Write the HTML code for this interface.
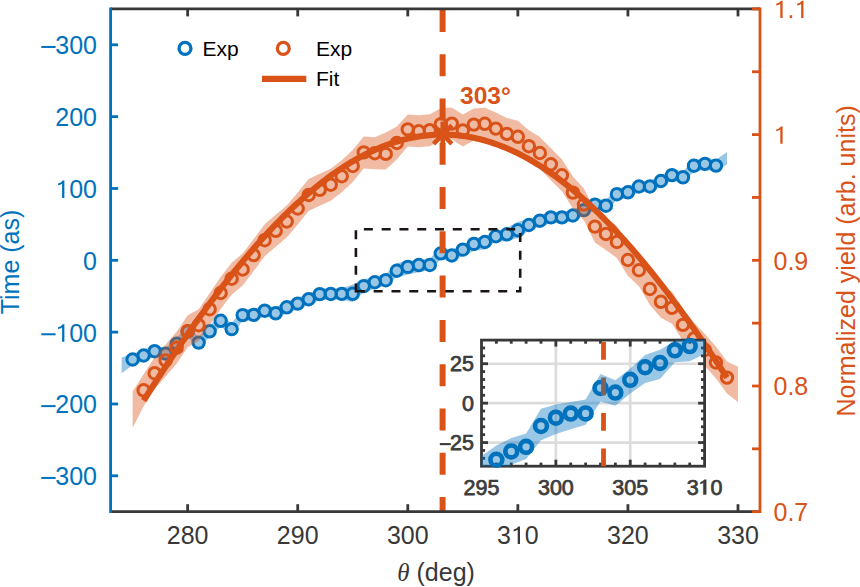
<!DOCTYPE html><html><head><meta charset="utf-8"><style>html,body{margin:0;padding:0;background:#fff;overflow:hidden;width:860px;height:587px;}svg{display:block;font-family:"Liberation Sans",sans-serif;}</style></head><body>
<svg width="860" height="587" viewBox="0 0 860 587">
<defs><clipPath id="cm"><rect x="110.6" y="8.9" width="649.4" height="502.8"/></clipPath>
<clipPath id="ci"><rect x="481.5" y="340.1" width="223.10000000000002" height="126.09999999999997"/></clipPath></defs>
<rect width="860" height="587" fill="#fff"/>
<g clip-path="url(#cm)">
<path d="M121.61 357.4 L132.61 353.75 L143.62 349.75 L154.63 345.45 L165.63 347.85 L176.64 338.05 L187.65 325.75 L198.65 336.85 L209.66 325.55 L220.67 315.05 L231.67 323.35 L242.68 309.35 L253.69 309.15 L264.69 304.95 L275.7 307.55 L286.71 301.55 L297.72 297.85 L308.72 293.45 L319.73 288.35 L330.74 288.25 L341.74 288.15 L352.75 284.43 L363.76 279.62 L374.76 276.17 L385.77 274.16 L396.78 262.89 L407.78 260.95 L418.79 259.8 L429.8 258.65 L440.8 247.01 L451.81 249.81 L462.82 244.5 L473.82 238.32 L484.83 235.95 L495.84 231.93 L506.84 227.83 L517.85 221.66 L528.86 219.25 L539.86 214.95 L550.87 211.65 L561.88 211.65 L572.88 209.75 L583.89 204.35 L594.9 198.85 L605.91 199.95 L616.91 188.45 L627.92 186.55 L638.93 180.75 L649.93 180.75 L660.94 175.25 L671.95 169.35 L682.95 171.55 L693.96 159.95 L704.97 158.15 L715.97 159.85 L726.98 151.98 L726.98 164.62 L715.97 171.35 L704.97 169.65 L693.96 171.45 L682.95 183.05 L671.95 180.85 L660.94 186.75 L649.93 192.25 L638.93 192.25 L627.92 198.05 L616.91 199.95 L605.91 211.45 L594.9 210.35 L583.89 215.85 L572.88 221.25 L561.88 223.15 L550.87 223.15 L539.86 226.45 L528.86 230.75 L517.85 237.89 L506.84 241.19 L495.84 241.62 L484.83 249.31 L473.82 251.11 L462.82 255.92 L451.81 261.52 L440.8 259.58 L429.8 270.14 L418.79 272.15 L407.78 274.38 L396.78 277.18 L385.77 285.8 L374.76 288.38 L363.76 292.55 L352.75 302.1 L341.74 299.65 L330.74 299.75 L319.73 299.85 L308.72 304.95 L297.72 309.35 L286.71 313.05 L275.7 319.05 L264.69 316.45 L253.69 320.65 L242.68 320.85 L231.67 334.85 L220.67 326.55 L209.66 337.05 L198.65 348.35 L187.65 337.25 L176.64 349.55 L165.63 359.35 L154.63 356.95 L143.62 361.25 L132.61 365.25 L121.61 373.2 Z" fill="#0072BD" fill-opacity="0.4"/>
<circle cx="132.61" cy="359.5" r="5.7" fill="none" stroke="#0072BD" stroke-width="3.0"/>
<circle cx="143.62" cy="355.5" r="5.7" fill="none" stroke="#0072BD" stroke-width="3.0"/>
<circle cx="154.63" cy="351.2" r="5.7" fill="none" stroke="#0072BD" stroke-width="3.0"/>
<circle cx="165.63" cy="353.6" r="5.7" fill="none" stroke="#0072BD" stroke-width="3.0"/>
<circle cx="176.64" cy="343.8" r="5.7" fill="none" stroke="#0072BD" stroke-width="3.0"/>
<circle cx="187.65" cy="331.5" r="5.7" fill="none" stroke="#0072BD" stroke-width="3.0"/>
<circle cx="198.65" cy="342.6" r="5.7" fill="none" stroke="#0072BD" stroke-width="3.0"/>
<circle cx="209.66" cy="331.3" r="5.7" fill="none" stroke="#0072BD" stroke-width="3.0"/>
<circle cx="220.67" cy="320.8" r="5.7" fill="none" stroke="#0072BD" stroke-width="3.0"/>
<circle cx="231.67" cy="329.1" r="5.7" fill="none" stroke="#0072BD" stroke-width="3.0"/>
<circle cx="242.68" cy="315.1" r="5.7" fill="none" stroke="#0072BD" stroke-width="3.0"/>
<circle cx="253.69" cy="314.9" r="5.7" fill="none" stroke="#0072BD" stroke-width="3.0"/>
<circle cx="264.69" cy="310.7" r="5.7" fill="none" stroke="#0072BD" stroke-width="3.0"/>
<circle cx="275.7" cy="313.3" r="5.7" fill="none" stroke="#0072BD" stroke-width="3.0"/>
<circle cx="286.71" cy="307.3" r="5.7" fill="none" stroke="#0072BD" stroke-width="3.0"/>
<circle cx="297.72" cy="303.6" r="5.7" fill="none" stroke="#0072BD" stroke-width="3.0"/>
<circle cx="308.72" cy="299.2" r="5.7" fill="none" stroke="#0072BD" stroke-width="3.0"/>
<circle cx="319.73" cy="294.1" r="5.7" fill="none" stroke="#0072BD" stroke-width="3.0"/>
<circle cx="330.74" cy="294" r="5.7" fill="none" stroke="#0072BD" stroke-width="3.0"/>
<circle cx="341.74" cy="293.9" r="5.7" fill="none" stroke="#0072BD" stroke-width="3.0"/>
<circle cx="352.75" cy="293.8" r="5.7" fill="none" stroke="#0072BD" stroke-width="3.0"/>
<circle cx="363.76" cy="286.09" r="5.7" fill="none" stroke="#0072BD" stroke-width="3.0"/>
<circle cx="374.76" cy="282.28" r="5.7" fill="none" stroke="#0072BD" stroke-width="3.0"/>
<circle cx="385.77" cy="280.2" r="5.7" fill="none" stroke="#0072BD" stroke-width="3.0"/>
<circle cx="396.78" cy="270.72" r="5.7" fill="none" stroke="#0072BD" stroke-width="3.0"/>
<circle cx="407.78" cy="266.91" r="5.7" fill="none" stroke="#0072BD" stroke-width="3.0"/>
<circle cx="418.79" cy="265.04" r="5.7" fill="none" stroke="#0072BD" stroke-width="3.0"/>
<circle cx="429.8" cy="264.97" r="5.7" fill="none" stroke="#0072BD" stroke-width="3.0"/>
<circle cx="440.8" cy="253.4" r="5.7" fill="none" stroke="#0072BD" stroke-width="3.0"/>
<circle cx="451.81" cy="255.49" r="5.7" fill="none" stroke="#0072BD" stroke-width="3.0"/>
<circle cx="462.82" cy="249.67" r="5.7" fill="none" stroke="#0072BD" stroke-width="3.0"/>
<circle cx="473.82" cy="243.92" r="5.7" fill="none" stroke="#0072BD" stroke-width="3.0"/>
<circle cx="484.83" cy="241.98" r="5.7" fill="none" stroke="#0072BD" stroke-width="3.0"/>
<circle cx="495.84" cy="236.24" r="5.7" fill="none" stroke="#0072BD" stroke-width="3.0"/>
<circle cx="506.84" cy="234.3" r="5.7" fill="none" stroke="#0072BD" stroke-width="3.0"/>
<circle cx="517.85" cy="230.3" r="5.7" fill="none" stroke="#0072BD" stroke-width="3.0"/>
<circle cx="528.86" cy="225" r="5.7" fill="none" stroke="#0072BD" stroke-width="3.0"/>
<circle cx="539.86" cy="220.7" r="5.7" fill="none" stroke="#0072BD" stroke-width="3.0"/>
<circle cx="550.87" cy="217.4" r="5.7" fill="none" stroke="#0072BD" stroke-width="3.0"/>
<circle cx="561.88" cy="217.4" r="5.7" fill="none" stroke="#0072BD" stroke-width="3.0"/>
<circle cx="572.88" cy="215.5" r="5.7" fill="none" stroke="#0072BD" stroke-width="3.0"/>
<circle cx="583.89" cy="210.1" r="5.7" fill="none" stroke="#0072BD" stroke-width="3.0"/>
<circle cx="594.9" cy="204.6" r="5.7" fill="none" stroke="#0072BD" stroke-width="3.0"/>
<circle cx="605.91" cy="205.7" r="5.7" fill="none" stroke="#0072BD" stroke-width="3.0"/>
<circle cx="616.91" cy="194.2" r="5.7" fill="none" stroke="#0072BD" stroke-width="3.0"/>
<circle cx="627.92" cy="192.3" r="5.7" fill="none" stroke="#0072BD" stroke-width="3.0"/>
<circle cx="638.93" cy="186.5" r="5.7" fill="none" stroke="#0072BD" stroke-width="3.0"/>
<circle cx="649.93" cy="186.5" r="5.7" fill="none" stroke="#0072BD" stroke-width="3.0"/>
<circle cx="660.94" cy="181" r="5.7" fill="none" stroke="#0072BD" stroke-width="3.0"/>
<circle cx="671.95" cy="175.1" r="5.7" fill="none" stroke="#0072BD" stroke-width="3.0"/>
<circle cx="682.95" cy="177.3" r="5.7" fill="none" stroke="#0072BD" stroke-width="3.0"/>
<circle cx="693.96" cy="165.7" r="5.7" fill="none" stroke="#0072BD" stroke-width="3.0"/>
<circle cx="704.97" cy="163.9" r="5.7" fill="none" stroke="#0072BD" stroke-width="3.0"/>
<circle cx="715.97" cy="165.6" r="5.7" fill="none" stroke="#0072BD" stroke-width="3.0"/>
<path d="M132.61 391.4 L143.62 374.3 L154.63 357.2 L165.63 344.4 L176.64 331.7 L187.65 315.2 L198.65 309.2 L209.66 293.2 L220.67 277 L231.67 262.7 L242.68 253.5 L253.69 239.1 L264.69 224.2 L275.7 214.8 L286.71 205.5 L297.72 192.5 L308.72 179 L319.73 173.8 L330.74 168.7 L341.74 160.2 L352.75 150 L363.76 136.4 L374.76 137.2 L385.77 132.5 L396.78 126.5 L407.78 114.5 L418.79 115.3 L429.8 114.2 L440.8 108.2 L451.81 107.6 L462.82 114.4 L473.82 108.6 L484.83 107.8 L495.84 112.6 L506.84 117.9 L517.85 120.8 L528.86 130.2 L539.86 137 L550.87 148.3 L561.88 159.3 L572.88 176.6 L583.89 188.5 L594.9 210.6 L605.91 218 L616.91 226 L627.92 244 L638.93 254.2 L649.93 273 L660.94 285.8 L671.95 291.8 L682.95 308.9 L693.96 322.5 L704.97 334 L715.97 346.5 L726.98 361.6 L737.99 366.8 L737.99 402 L726.98 393.6 L715.97 378.5 L704.97 366 L693.96 354.5 L682.95 340.9 L671.95 323.8 L660.94 317.8 L649.93 305 L638.93 286.2 L627.92 276 L616.91 258 L605.91 250 L594.9 242.6 L583.89 220.5 L572.88 208.6 L561.88 191.3 L550.87 180.3 L539.86 169 L528.86 162.2 L517.85 152.8 L506.84 149.9 L495.84 144.6 L484.83 139.8 L473.82 140.6 L462.82 146.4 L451.81 139.6 L440.8 140.2 L429.8 146.2 L418.79 147.3 L407.78 146.5 L396.78 159.5 L385.77 169.5 L374.76 169.2 L363.76 168.4 L352.75 182 L341.74 192.2 L330.74 200.7 L319.73 205.8 L308.72 211 L297.72 224.5 L286.71 237.5 L275.7 246.8 L264.69 256.2 L253.69 271.1 L242.68 285.5 L231.67 294.7 L220.67 309 L209.66 325.2 L198.65 341.2 L187.65 347.2 L176.64 363.7 L165.63 376.4 L154.63 389.2 L143.62 406.3 L132.61 428 Z" fill="#D95319" fill-opacity="0.4"/>
<circle cx="143.62" cy="390.3" r="5.7" fill="none" stroke="#D95319" stroke-width="3.0"/>
<circle cx="154.63" cy="373.2" r="5.7" fill="none" stroke="#D95319" stroke-width="3.0"/>
<circle cx="165.63" cy="360.4" r="5.7" fill="none" stroke="#D95319" stroke-width="3.0"/>
<circle cx="176.64" cy="347.7" r="5.7" fill="none" stroke="#D95319" stroke-width="3.0"/>
<circle cx="187.65" cy="331.2" r="5.7" fill="none" stroke="#D95319" stroke-width="3.0"/>
<circle cx="198.65" cy="325.2" r="5.7" fill="none" stroke="#D95319" stroke-width="3.0"/>
<circle cx="209.66" cy="309.2" r="5.7" fill="none" stroke="#D95319" stroke-width="3.0"/>
<circle cx="220.67" cy="293" r="5.7" fill="none" stroke="#D95319" stroke-width="3.0"/>
<circle cx="231.67" cy="278.7" r="5.7" fill="none" stroke="#D95319" stroke-width="3.0"/>
<circle cx="242.68" cy="269.5" r="5.7" fill="none" stroke="#D95319" stroke-width="3.0"/>
<circle cx="253.69" cy="255.1" r="5.7" fill="none" stroke="#D95319" stroke-width="3.0"/>
<circle cx="264.69" cy="240.2" r="5.7" fill="none" stroke="#D95319" stroke-width="3.0"/>
<circle cx="275.7" cy="230.8" r="5.7" fill="none" stroke="#D95319" stroke-width="3.0"/>
<circle cx="286.71" cy="221.5" r="5.7" fill="none" stroke="#D95319" stroke-width="3.0"/>
<circle cx="297.72" cy="208.5" r="5.7" fill="none" stroke="#D95319" stroke-width="3.0"/>
<circle cx="308.72" cy="195" r="5.7" fill="none" stroke="#D95319" stroke-width="3.0"/>
<circle cx="319.73" cy="189.8" r="5.7" fill="none" stroke="#D95319" stroke-width="3.0"/>
<circle cx="330.74" cy="184.7" r="5.7" fill="none" stroke="#D95319" stroke-width="3.0"/>
<circle cx="341.74" cy="176.2" r="5.7" fill="none" stroke="#D95319" stroke-width="3.0"/>
<circle cx="352.75" cy="166" r="5.7" fill="none" stroke="#D95319" stroke-width="3.0"/>
<circle cx="363.76" cy="152.4" r="5.7" fill="none" stroke="#D95319" stroke-width="3.0"/>
<circle cx="374.76" cy="153.2" r="5.7" fill="none" stroke="#D95319" stroke-width="3.0"/>
<circle cx="385.77" cy="153.9" r="5.7" fill="none" stroke="#D95319" stroke-width="3.0"/>
<circle cx="396.78" cy="143" r="5.7" fill="none" stroke="#D95319" stroke-width="3.0"/>
<circle cx="407.78" cy="129.4" r="5.7" fill="none" stroke="#D95319" stroke-width="3.0"/>
<circle cx="418.79" cy="131.3" r="5.7" fill="none" stroke="#D95319" stroke-width="3.0"/>
<circle cx="429.8" cy="130.2" r="5.7" fill="none" stroke="#D95319" stroke-width="3.0"/>
<circle cx="440.8" cy="124.2" r="5.7" fill="none" stroke="#D95319" stroke-width="3.0"/>
<circle cx="451.81" cy="123.6" r="5.7" fill="none" stroke="#D95319" stroke-width="3.0"/>
<circle cx="462.82" cy="130.4" r="5.7" fill="none" stroke="#D95319" stroke-width="3.0"/>
<circle cx="473.82" cy="124.6" r="5.7" fill="none" stroke="#D95319" stroke-width="3.0"/>
<circle cx="484.83" cy="123.8" r="5.7" fill="none" stroke="#D95319" stroke-width="3.0"/>
<circle cx="495.84" cy="128.6" r="5.7" fill="none" stroke="#D95319" stroke-width="3.0"/>
<circle cx="506.84" cy="133.9" r="5.7" fill="none" stroke="#D95319" stroke-width="3.0"/>
<circle cx="517.85" cy="136.8" r="5.7" fill="none" stroke="#D95319" stroke-width="3.0"/>
<circle cx="528.86" cy="146.2" r="5.7" fill="none" stroke="#D95319" stroke-width="3.0"/>
<circle cx="539.86" cy="153" r="5.7" fill="none" stroke="#D95319" stroke-width="3.0"/>
<circle cx="550.87" cy="164.3" r="5.7" fill="none" stroke="#D95319" stroke-width="3.0"/>
<circle cx="561.88" cy="175.3" r="5.7" fill="none" stroke="#D95319" stroke-width="3.0"/>
<circle cx="572.88" cy="192.6" r="5.7" fill="none" stroke="#D95319" stroke-width="3.0"/>
<circle cx="583.89" cy="204.5" r="5.7" fill="none" stroke="#D95319" stroke-width="3.0"/>
<circle cx="594.9" cy="226.6" r="5.7" fill="none" stroke="#D95319" stroke-width="3.0"/>
<circle cx="605.91" cy="234" r="5.7" fill="none" stroke="#D95319" stroke-width="3.0"/>
<circle cx="616.91" cy="242" r="5.7" fill="none" stroke="#D95319" stroke-width="3.0"/>
<circle cx="627.92" cy="260" r="5.7" fill="none" stroke="#D95319" stroke-width="3.0"/>
<circle cx="638.93" cy="270.2" r="5.7" fill="none" stroke="#D95319" stroke-width="3.0"/>
<circle cx="649.93" cy="289" r="5.7" fill="none" stroke="#D95319" stroke-width="3.0"/>
<circle cx="660.94" cy="301.8" r="5.7" fill="none" stroke="#D95319" stroke-width="3.0"/>
<circle cx="671.95" cy="307.8" r="5.7" fill="none" stroke="#D95319" stroke-width="3.0"/>
<circle cx="682.95" cy="324.9" r="5.7" fill="none" stroke="#D95319" stroke-width="3.0"/>
<circle cx="693.96" cy="338.5" r="5.7" fill="none" stroke="#D95319" stroke-width="3.0"/>
<circle cx="704.97" cy="350" r="5.7" fill="none" stroke="#D95319" stroke-width="3.0"/>
<circle cx="715.97" cy="362.5" r="5.7" fill="none" stroke="#D95319" stroke-width="3.0"/>
<circle cx="726.98" cy="377.6" r="5.7" fill="none" stroke="#D95319" stroke-width="3.0"/>
<path d="M143.62 400.58 L146.37 396.25 L149.12 391.95 L151.88 387.67 L154.63 383.41 L157.38 379.17 L160.13 374.96 L162.88 370.77 L165.63 366.6 L168.39 362.46 L171.14 358.34 L173.89 354.25 L176.64 350.18 L179.39 346.14 L182.14 342.13 L184.9 338.14 L187.65 334.18 L190.4 330.25 L193.15 326.35 L195.9 322.47 L198.65 318.63 L201.41 314.81 L204.16 311.03 L206.91 307.27 L209.66 303.55 L212.41 299.85 L215.16 296.19 L217.92 292.56 L220.67 288.96 L223.42 285.4 L226.17 281.87 L228.92 278.37 L231.67 274.9 L234.43 271.47 L237.18 268.08 L239.93 264.72 L242.68 261.39 L245.43 258.11 L248.18 254.85 L250.94 251.64 L253.69 248.46 L256.44 245.32 L259.19 242.21 L261.94 239.14 L264.69 236.12 L267.45 233.13 L270.2 230.18 L272.95 227.27 L275.7 224.39 L278.45 221.56 L281.21 218.77 L283.96 216.02 L286.71 213.31 L289.46 210.65 L292.21 208.02 L294.96 205.43 L297.72 202.89 L300.47 200.39 L303.22 197.94 L305.97 195.52 L308.72 193.15 L311.47 190.82 L314.23 188.54 L316.98 186.3 L319.73 184.11 L322.48 181.96 L325.23 179.85 L327.98 177.8 L330.74 175.78 L333.49 173.81 L336.24 171.89 L338.99 170.01 L341.74 168.18 L344.49 166.4 L347.25 164.67 L350 162.98 L352.75 161.33 L355.5 159.74 L358.25 158.19 L361 156.69 L363.76 155.24 L366.51 153.84 L369.26 152.48 L372.01 151.18 L374.76 149.92 L377.51 148.71 L380.27 147.55 L383.02 146.44 L385.77 145.37 L388.52 144.36 L391.27 143.4 L394.02 142.48 L396.78 141.62 L399.53 140.81 L402.28 140.04 L405.03 139.33 L407.78 138.66 L410.53 138.05 L413.29 137.48 L416.04 136.97 L418.79 136.5 L421.54 136.09 L424.29 135.73 L427.04 135.42 L429.8 135.15 L432.55 134.94 L435.3 134.78 L438.05 134.67 L440.8 134.61 L443.56 134.6 L446.31 134.64 L449.06 134.74 L451.81 134.88 L454.56 135.07 L457.31 135.32 L460.07 135.61 L462.82 135.96 L465.57 136.35 L468.32 136.8 L471.07 137.29 L473.82 137.84 L476.58 138.43 L479.33 139.08 L482.08 139.78 L484.83 140.52 L487.58 141.32 L490.33 142.17 L493.09 143.06 L495.84 144.01 L498.59 145 L501.34 146.05 L504.09 147.14 L506.84 148.28 L509.6 149.48 L512.35 150.72 L515.1 152.01 L517.85 153.34 L520.6 154.73 L523.35 156.16 L526.11 157.65 L528.86 159.18 L531.61 160.75 L534.36 162.38 L537.11 164.05 L539.86 165.77 L542.62 167.54 L545.37 169.35 L548.12 171.21 L550.87 173.12 L553.62 175.07 L556.37 177.07 L559.13 179.11 L561.88 181.2 L564.63 183.33 L567.38 185.51 L570.13 187.73 L572.88 190 L575.64 192.31 L578.39 194.66 L581.14 197.06 L583.89 199.5 L586.64 201.99 L589.39 204.51 L592.15 207.08 L594.9 209.69 L597.65 212.35 L600.4 215.04 L603.15 217.78 L605.91 220.55 L608.66 223.37 L611.41 226.23 L614.16 229.12 L616.91 232.06 L619.66 235.04 L622.42 238.05 L625.17 241.1 L627.92 244.19 L630.67 247.32 L633.42 250.49 L636.17 253.69 L638.93 256.93 L641.68 260.21 L644.43 263.52 L647.18 266.87 L649.93 270.25 L652.68 273.67 L655.44 277.12 L658.19 280.6 L660.94 284.12 L663.69 287.68 L666.44 291.26 L669.19 294.88 L671.95 298.53 L674.7 302.21 L677.45 305.93 L680.2 309.67 L682.95 313.45 L685.7 317.25 L688.46 321.09 L691.21 324.95 L693.96 328.84 L696.71 332.76 L699.46 336.71 L702.21 340.69 L704.97 344.69 L707.72 348.72 L710.47 352.78 L713.22 356.86 L715.97 360.97 L718.72 365.11 L721.48 369.26 L724.23 373.45 L726.98 377.65" fill="none" stroke="#D95319" stroke-width="6.1"/>
</g>
<path d="M355.9 291.25 H520.2 V229.3 H355.9 Z" fill="none" stroke="#1a1414" stroke-width="2.6" stroke-dasharray="9 8.79"/>
<line x1="442.6" y1="10" x2="442.6" y2="511.7" stroke="#D95319" stroke-width="6" stroke-dasharray="22 22.27"/>
<path d="M429.7 134.6 L455.7 134.6 M433.51 125.41 L451.89 143.79 M442.7 121.6 L442.7 147.6 M451.89 125.41 L433.51 143.79" stroke="#D95319" stroke-width="4.5" fill="none"/>
<text x="460" y="104" font-size="24.5" font-weight="bold" fill="#D95319">303°</text>
<circle cx="185" cy="48.4" r="5.95" fill="none" stroke="#0072BD" stroke-width="3.3"/>
<text x="202.5" y="55.5" font-size="21" fill="#000">Exp</text>
<circle cx="283.3" cy="48.4" r="5.95" fill="none" stroke="#D95319" stroke-width="3.3"/>
<text x="316" y="55.5" font-size="21" fill="#000">Exp</text>
<line x1="262" y1="78.8" x2="306.3" y2="78.8" stroke="#D95319" stroke-width="6.3"/>
<text x="316" y="86.3" font-size="21" fill="#000">Fit</text>
<g fill="none" stroke-width="2.8">
<line x1="110.6" y1="8.9" x2="760.0" y2="8.9" stroke="#383838"/>
<line x1="110.6" y1="511.7" x2="760.0" y2="511.7" stroke="#383838"/>
<line x1="187.65" y1="511.7" x2="187.65" y2="504.2" stroke="#383838"/>
<line x1="187.65" y1="8.9" x2="187.65" y2="16.4" stroke="#383838"/>
<line x1="297.72" y1="511.7" x2="297.72" y2="504.2" stroke="#383838"/>
<line x1="297.72" y1="8.9" x2="297.72" y2="16.4" stroke="#383838"/>
<line x1="407.78" y1="511.7" x2="407.78" y2="504.2" stroke="#383838"/>
<line x1="407.78" y1="8.9" x2="407.78" y2="16.4" stroke="#383838"/>
<line x1="517.85" y1="511.7" x2="517.85" y2="504.2" stroke="#383838"/>
<line x1="517.85" y1="8.9" x2="517.85" y2="16.4" stroke="#383838"/>
<line x1="627.92" y1="511.7" x2="627.92" y2="504.2" stroke="#383838"/>
<line x1="627.92" y1="8.9" x2="627.92" y2="16.4" stroke="#383838"/>
<line x1="737.99" y1="511.7" x2="737.99" y2="504.2" stroke="#383838"/>
<line x1="737.99" y1="8.9" x2="737.99" y2="16.4" stroke="#383838"/>
<line x1="110.6" y1="7.5" x2="110.6" y2="513.1" stroke="#0072BD"/>
<line x1="110.6" y1="475.79" x2="118.1" y2="475.79" stroke="#0072BD"/>
<line x1="110.6" y1="403.96" x2="118.1" y2="403.96" stroke="#0072BD"/>
<line x1="110.6" y1="332.13" x2="118.1" y2="332.13" stroke="#0072BD"/>
<line x1="110.6" y1="260.3" x2="118.1" y2="260.3" stroke="#0072BD"/>
<line x1="110.6" y1="188.47" x2="118.1" y2="188.47" stroke="#0072BD"/>
<line x1="110.6" y1="116.64" x2="118.1" y2="116.64" stroke="#0072BD"/>
<line x1="110.6" y1="44.81" x2="118.1" y2="44.81" stroke="#0072BD"/>
<line x1="760.0" y1="7.5" x2="760.0" y2="513.1" stroke="#D95319"/>
<line x1="760.0" y1="511.7" x2="752.0" y2="511.7" stroke="#D95319"/>
<line x1="760.0" y1="448.85" x2="752.0" y2="448.85" stroke="#D95319"/>
<line x1="760.0" y1="386" x2="752.0" y2="386" stroke="#D95319"/>
<line x1="760.0" y1="323.15" x2="752.0" y2="323.15" stroke="#D95319"/>
<line x1="760.0" y1="260.3" x2="752.0" y2="260.3" stroke="#D95319"/>
<line x1="760.0" y1="197.45" x2="752.0" y2="197.45" stroke="#D95319"/>
<line x1="760.0" y1="134.6" x2="752.0" y2="134.6" stroke="#D95319"/>
<line x1="760.0" y1="71.75" x2="752.0" y2="71.75" stroke="#D95319"/>
<line x1="760.0" y1="8.9" x2="752.0" y2="8.9" stroke="#D95319"/>
</g>
<text x="55.29" y="54.31" font-size="25" fill="#0072BD">300</text>
<rect x="41.3" y="45.96" width="14.3" height="2" fill="#0072BD"/>
<text x="55.29" y="126.14" font-size="25" fill="#0072BD">200</text>
<text x="55.29" y="197.97" font-size="25" fill="#0072BD"> 00</text>
<path d="M745 0L745 1425L610 1425Q480 1235 225 1178L225 1032Q420 1072 557 1165L557 0Z" fill="#0072BD" transform="translate(55.29 197.97) scale(0.012207 -0.012207)"/>
<text x="83.1" y="269.8" font-size="25" fill="#0072BD">0</text>
<text x="55.29" y="341.63" font-size="25" fill="#0072BD"> 00</text>
<path d="M745 0L745 1425L610 1425Q480 1235 225 1178L225 1032Q420 1072 557 1165L557 0Z" fill="#0072BD" transform="translate(55.29 341.63) scale(0.012207 -0.012207)"/>
<rect x="41.3" y="333.28" width="14.3" height="2" fill="#0072BD"/>
<text x="55.29" y="413.46" font-size="25" fill="#0072BD">200</text>
<rect x="41.3" y="405.11" width="14.3" height="2" fill="#0072BD"/>
<text x="55.29" y="485.29" font-size="25" fill="#0072BD">300</text>
<rect x="41.3" y="476.94" width="14.3" height="2" fill="#0072BD"/>
<text x="773.5" y="18.1" font-size="25" fill="#D95319"> . </text>
<path d="M745 0L745 1425L610 1425Q480 1235 225 1178L225 1032Q420 1072 557 1165L557 0Z" fill="#D95319" transform="translate(773.5 18.1) scale(0.012207 -0.012207)"/>
<path d="M745 0L745 1425L610 1425Q480 1235 225 1178L225 1032Q420 1072 557 1165L557 0Z" fill="#D95319" transform="translate(794.35 18.1) scale(0.012207 -0.012207)"/>
<text x="773.5" y="143.8" font-size="25" fill="#D95319"> </text>
<path d="M745 0L745 1425L610 1425Q480 1235 225 1178L225 1032Q420 1072 557 1165L557 0Z" fill="#D95319" transform="translate(773.5 143.8) scale(0.012207 -0.012207)"/>
<text x="773.5" y="269.5" font-size="25" fill="#D95319">0.9</text>
<text x="773.5" y="395.2" font-size="25" fill="#D95319">0.8</text>
<text x="773.5" y="520.9" font-size="25" fill="#D95319">0.7</text>
<text x="166.79" y="544" font-size="25" fill="#383838">280</text>
<text x="276.86" y="544" font-size="25" fill="#383838">290</text>
<text x="386.93" y="544" font-size="25" fill="#383838">300</text>
<text x="497" y="544" font-size="25" fill="#383838">3 0</text>
<path d="M745 0L745 1425L610 1425Q480 1235 225 1178L225 1032Q420 1072 557 1165L557 0Z" fill="#383838" transform="translate(510.9 544) scale(0.012207 -0.012207)"/>
<text x="607.06" y="544" font-size="25" fill="#383838">320</text>
<text x="717.13" y="544" font-size="25" fill="#383838">330</text>
<text transform="translate(18.6 262) rotate(-90)" font-size="25" fill="#0072BD" text-anchor="middle">Time (as)</text>
<text transform="translate(854.6 260.9) rotate(-90)" font-size="25" fill="#D95319" text-anchor="middle">Normalized yield (arb. units)</text>
<text x="397.3" y="581" font-size="25" fill="#383838"><tspan font-family="Liberation Serif" font-style="italic">θ</tspan> (deg)</text>
<rect x="481.5" y="340.1" width="223.10000000000002" height="126.09999999999997" fill="#fff"/>
<g clip-path="url(#ci)">
<g stroke="#dcdcdc" stroke-width="2.7">
<line x1="555.87" y1="340.1" x2="555.87" y2="466.2"/>
<line x1="630.23" y1="340.1" x2="630.23" y2="466.2"/>
<line x1="481.5" y1="363.74" x2="704.6" y2="363.74"/>
<line x1="481.5" y1="403.15" x2="704.6" y2="403.15"/>
<line x1="481.5" y1="442.56" x2="704.6" y2="442.56"/>
</g>
</g>
<g stroke="#383838" stroke-width="2.8" fill="none">
<rect x="481.5" y="340.1" width="223.10000000000002" height="126.09999999999997"/>
<line x1="496.37" y1="466.2" x2="496.37" y2="462.59999999999997"/>
<line x1="496.37" y1="340.1" x2="496.37" y2="343.70000000000005"/>
<line x1="511.25" y1="466.2" x2="511.25" y2="462.59999999999997"/>
<line x1="511.25" y1="340.1" x2="511.25" y2="343.70000000000005"/>
<line x1="526.12" y1="466.2" x2="526.12" y2="462.59999999999997"/>
<line x1="526.12" y1="340.1" x2="526.12" y2="343.70000000000005"/>
<line x1="540.99" y1="466.2" x2="540.99" y2="462.59999999999997"/>
<line x1="540.99" y1="340.1" x2="540.99" y2="343.70000000000005"/>
<line x1="555.87" y1="466.2" x2="555.87" y2="459.7"/>
<line x1="555.87" y1="340.1" x2="555.87" y2="346.6"/>
<line x1="570.74" y1="466.2" x2="570.74" y2="462.59999999999997"/>
<line x1="570.74" y1="340.1" x2="570.74" y2="343.70000000000005"/>
<line x1="585.61" y1="466.2" x2="585.61" y2="462.59999999999997"/>
<line x1="585.61" y1="340.1" x2="585.61" y2="343.70000000000005"/>
<line x1="600.49" y1="466.2" x2="600.49" y2="462.59999999999997"/>
<line x1="600.49" y1="340.1" x2="600.49" y2="343.70000000000005"/>
<line x1="615.36" y1="466.2" x2="615.36" y2="462.59999999999997"/>
<line x1="615.36" y1="340.1" x2="615.36" y2="343.70000000000005"/>
<line x1="630.23" y1="466.2" x2="630.23" y2="459.7"/>
<line x1="630.23" y1="340.1" x2="630.23" y2="346.6"/>
<line x1="645.11" y1="466.2" x2="645.11" y2="462.59999999999997"/>
<line x1="645.11" y1="340.1" x2="645.11" y2="343.70000000000005"/>
<line x1="659.98" y1="466.2" x2="659.98" y2="462.59999999999997"/>
<line x1="659.98" y1="340.1" x2="659.98" y2="343.70000000000005"/>
<line x1="674.85" y1="466.2" x2="674.85" y2="462.59999999999997"/>
<line x1="674.85" y1="340.1" x2="674.85" y2="343.70000000000005"/>
<line x1="689.73" y1="466.2" x2="689.73" y2="462.59999999999997"/>
<line x1="689.73" y1="340.1" x2="689.73" y2="343.70000000000005"/>
<line x1="481.5" y1="458.32" x2="485.1" y2="458.32"/>
<line x1="704.6" y1="458.32" x2="701.0" y2="458.32"/>
<line x1="481.5" y1="450.44" x2="485.1" y2="450.44"/>
<line x1="704.6" y1="450.44" x2="701.0" y2="450.44"/>
<line x1="481.5" y1="442.56" x2="488.0" y2="442.56"/>
<line x1="704.6" y1="442.56" x2="698.1" y2="442.56"/>
<line x1="481.5" y1="434.67" x2="485.1" y2="434.67"/>
<line x1="704.6" y1="434.67" x2="701.0" y2="434.67"/>
<line x1="481.5" y1="426.79" x2="485.1" y2="426.79"/>
<line x1="704.6" y1="426.79" x2="701.0" y2="426.79"/>
<line x1="481.5" y1="418.91" x2="485.1" y2="418.91"/>
<line x1="704.6" y1="418.91" x2="701.0" y2="418.91"/>
<line x1="481.5" y1="411.03" x2="485.1" y2="411.03"/>
<line x1="704.6" y1="411.03" x2="701.0" y2="411.03"/>
<line x1="481.5" y1="403.15" x2="488.0" y2="403.15"/>
<line x1="704.6" y1="403.15" x2="698.1" y2="403.15"/>
<line x1="481.5" y1="395.27" x2="485.1" y2="395.27"/>
<line x1="704.6" y1="395.27" x2="701.0" y2="395.27"/>
<line x1="481.5" y1="387.39" x2="485.1" y2="387.39"/>
<line x1="704.6" y1="387.39" x2="701.0" y2="387.39"/>
<line x1="481.5" y1="379.51" x2="485.1" y2="379.51"/>
<line x1="704.6" y1="379.51" x2="701.0" y2="379.51"/>
<line x1="481.5" y1="371.62" x2="485.1" y2="371.62"/>
<line x1="704.6" y1="371.62" x2="701.0" y2="371.62"/>
<line x1="481.5" y1="363.74" x2="488.0" y2="363.74"/>
<line x1="704.6" y1="363.74" x2="698.1" y2="363.74"/>
<line x1="481.5" y1="355.86" x2="485.1" y2="355.86"/>
<line x1="704.6" y1="355.86" x2="701.0" y2="355.86"/>
<line x1="481.5" y1="347.98" x2="485.1" y2="347.98"/>
<line x1="704.6" y1="347.98" x2="701.0" y2="347.98"/>
</g>
<circle cx="496.37" cy="459.74" r="5.95" fill="none" stroke="#0072BD" stroke-width="4.6"/>
<circle cx="511.25" cy="451.38" r="5.95" fill="none" stroke="#0072BD" stroke-width="4.6"/>
<circle cx="526.12" cy="446.81" r="5.95" fill="none" stroke="#0072BD" stroke-width="4.6"/>
<circle cx="540.99" cy="426.01" r="5.95" fill="none" stroke="#0072BD" stroke-width="4.6"/>
<circle cx="555.87" cy="417.65" r="5.95" fill="none" stroke="#0072BD" stroke-width="4.6"/>
<circle cx="570.74" cy="413.55" r="5.95" fill="none" stroke="#0072BD" stroke-width="4.6"/>
<circle cx="585.61" cy="413.4" r="5.95" fill="none" stroke="#0072BD" stroke-width="4.6"/>
<circle cx="600.49" cy="388.02" r="5.95" fill="none" stroke="#0072BD" stroke-width="4.6"/>
<circle cx="615.36" cy="392.59" r="5.95" fill="none" stroke="#0072BD" stroke-width="4.6"/>
<circle cx="630.23" cy="379.82" r="5.95" fill="none" stroke="#0072BD" stroke-width="4.6"/>
<circle cx="645.11" cy="367.21" r="5.95" fill="none" stroke="#0072BD" stroke-width="4.6"/>
<circle cx="659.98" cy="362.96" r="5.95" fill="none" stroke="#0072BD" stroke-width="4.6"/>
<circle cx="674.85" cy="350.35" r="5.95" fill="none" stroke="#0072BD" stroke-width="4.6"/>
<circle cx="689.73" cy="346.09" r="5.95" fill="none" stroke="#0072BD" stroke-width="4.6"/>
<line x1="603.52" y1="341.9" x2="603.52" y2="466.2" stroke="#D95319" stroke-width="4.8" stroke-dasharray="17.8 17.7"/>
<path d="M466.63 464.27 L481.5 456.11 L496.37 445.55 L511.25 437.99 L526.12 433.57 L540.99 408.82 L555.87 404.57 L570.74 402.05 L585.61 399.52 L600.49 373.99 L615.36 380.14 L630.23 368.47 L645.11 354.92 L659.98 349.72 L674.85 340.89 L689.73 331.9 L704.6 318.35 L719.47 313.08 L719.47 338.3 L704.6 353.97 L689.73 361.22 L674.85 362.17 L659.98 379.03 L645.11 382.97 L630.23 393.53 L615.36 405.83 L600.49 401.57 L585.61 424.74 L570.74 429.16 L555.87 434.04 L540.99 440.19 L526.12 459.11 L511.25 464.78 L496.37 473.92 L481.5 494.89 L466.63 489.49 Z" fill="#0072BD" fill-opacity="0.4" clip-path="url(#ci)"/>
<text x="450.09" y="371.14" font-size="21.5" fill="#3c3c3c" stroke="#3c3c3c" stroke-width="0.75">25</text>
<text x="462.04" y="410.55" font-size="21.5" fill="#3c3c3c" stroke="#3c3c3c" stroke-width="0.75">0</text>
<text x="450.09" y="449.96" font-size="21.5" fill="#3c3c3c" stroke="#3c3c3c" stroke-width="0.75">25</text>
<rect x="439.8" y="443.06" width="11" height="2.1" fill="#3c3c3c"/>
<text x="463.56" y="494.5" font-size="21.5" fill="#3c3c3c" stroke="#3c3c3c" stroke-width="0.75">295</text>
<text x="537.93" y="494.5" font-size="21.5" fill="#3c3c3c" stroke="#3c3c3c" stroke-width="0.75">300</text>
<text x="612.3" y="494.5" font-size="21.5" fill="#3c3c3c" stroke="#3c3c3c" stroke-width="0.75">305</text>
<text x="686.66" y="494.5" font-size="21.5" fill="#3c3c3c" stroke="#3c3c3c" stroke-width="0.75">3 0</text>
<path d="M724 0L724 1409L540 1409Q410 1250 171 1170L171 1000Q330 1030 448 1112L448 0Z" fill="#3c3c3c" stroke="#3c3c3c" stroke-width="38.1" transform="translate(698.62 494.5) scale(0.010498 -0.010498)"/>
</svg></body></html>
